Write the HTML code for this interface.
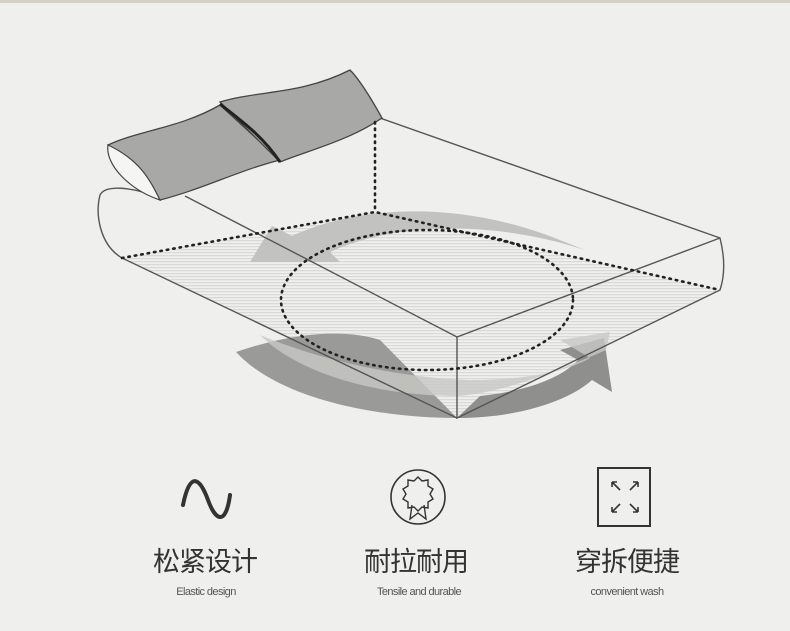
<!DOCTYPE html>
<html><head><meta charset="utf-8"><style>
html,body{margin:0;padding:0;background:#efefed;}
.wrap{position:relative;width:790px;height:631px;overflow:hidden;background:#efefed;font-family:"Liberation Sans","Noto Sans CJK SC",sans-serif;}
.t{position:absolute;text-align:center;color:#333;}
.cn{font-size:27px;top:540px;width:160px;letter-spacing:-1px;}
.en{font-size:11px;top:586px;width:160px;color:#555;letter-spacing:-0.6px;}
</style></head><body><div class="wrap">
<div style="position:absolute;left:0;top:0;width:790px;height:3px;background:#d8cfc4"></div>
<svg width="790" height="631" style="position:absolute;left:0;top:0">
<defs><pattern id="h" width="4" height="3" patternUnits="userSpaceOnUse"><rect width="4" height="1.2" fill="#d6d6d4"/></pattern></defs>
<path d="M122,258 L375,212 L720,290 L457,418 Z" fill="url(#h)" opacity="0.9"/>
<path d="M236,352 C300,330 350,330 380,340 L457,418 C380,418 280,400 236,352 Z" fill="#9a9a98"/>
<path d="M457,418 C520,418 570,400 592,380 L612,392 L604,338 L560,350 L578,360 C560,380 520,392 480,396 Z" fill="#8f8f8d"/>
<path d="M260,335 C320,360 400,378 470,380 C530,380 570,370 590,358 L560,340 L610,332 L606,350 C560,370 500,394 457,396 C380,396 300,375 260,335Z" fill="#c8c8c6" opacity="0.8"/>
<path d="M250,262 L272,226 L292,236 C360,205 460,200 560,240 L585,250 C500,222 400,220 330,252 L340,262 Z" fill="#c2c2c0"/>
<path d="M185,196 L457,337 L720,238" fill="none" stroke="#555" stroke-width="1.4"/>
<path d="M380,118 L720,238 C725,258 725,275 720,290 L457,418 L457,337" fill="none" stroke="#555" stroke-width="1.4"/>
<path d="M160,198 C130,186 105,185 100,195 C95,215 100,245 122,258 L457,418" fill="none" stroke="#555" stroke-width="1.4"/>
<path d="M108,145 C140,130 180,128 220,105 L280,160 C240,170 200,190 160,200 Z" fill="#a8a8a6" stroke="#444" stroke-width="1.3"/>
<path d="M220,102 C260,90 300,95 350,70 C360,80 372,100 382,118 C350,140 310,150 280,162 Z" fill="#a8a8a6" stroke="#444" stroke-width="1.3"/>
<path d="M220,104 C240,120 262,135 280,162" stroke="#222" stroke-width="3" fill="none"/>
<path d="M108,145 C105,165 130,190 160,200 C150,180 140,160 108,145 Z" fill="#f5f5f3" stroke="#444" stroke-width="1.2"/>
<g fill="none" stroke="#222" stroke-width="2.6" stroke-dasharray="1.5 5" stroke-linecap="round">
<path d="M375,122 L375,212"/>
<path d="M122,258 L375,212 L720,290"/>
<ellipse cx="427" cy="300" rx="146" ry="70"/>
</g>
<path d="M183,505 C190,470 200,478 208,500 C216,522 226,525 230,495" fill="none" stroke="#333" stroke-width="4" stroke-linecap="round"/>
<circle cx="418" cy="497" r="27" fill="none" stroke="#333" stroke-width="1.6"/>
<path d="M418,477 l4,4 6,-1 0,6 5,3 -3,5 3,5 -5,3 0,6 -6,-1 -4,4 -4,-4 -6,1 0,-6 -5,-3 3,-5 -3,-5 5,-3 0,-6 6,1 z" fill="none" stroke="#333" stroke-width="1.4"/>
<path d="M412,505 l-2,14 8,-6 8,6 -2,-14" fill="none" stroke="#333" stroke-width="1.4"/>
<rect x="598" y="468" width="52" height="58" fill="none" stroke="#333" stroke-width="2"/>
<g stroke="#333" stroke-width="1.6" fill="none">
<path d="M612,482 l8,8 M612,482 v5 M612,482 h5"/>
<path d="M638,482 l-8,8 M638,482 v5 M638,482 h-5"/>
<path d="M612,512 l8,-8 M612,512 v-5 M612,512 h5"/>
<path d="M638,512 l-8,-8 M638,512 v-5 M638,512 h-5"/>
</g>
</svg>
<div class="t cn" style="left:125px">松紧设计</div>
<div class="t en" style="left:126px">Elastic design</div>
<div class="t cn" style="left:336px">耐拉耐用</div>
<div class="t en" style="left:339px">Tensile and durable</div>
<div class="t cn" style="left:547px">穿拆便捷</div>
<div class="t en" style="left:547px">convenient wash</div>
</div></body></html>
